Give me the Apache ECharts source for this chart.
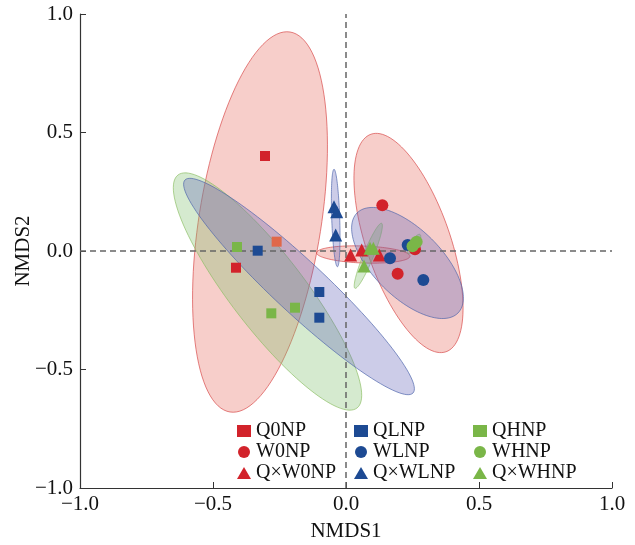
<!DOCTYPE html>
<html>
<head>
<meta charset="utf-8">
<script src="https://cdn.jsdelivr.net/npm/echarts@6/dist/echarts.min.js"></script>
<style>
  html, body { margin: 0; padding: 0; background: #fff; }
  #nmds { width: 635px; height: 545px; }
</style>
</head>
<body>
<div id="nmds"></div>
<script>
// 样本点 (NMDS1, NMDS2)
var q0np = [[-0.3045, 0.4008], [-0.4135, -0.0705], [-0.2607, 0.0394]];
var w0np = [[0.1366, 0.1927], [0.1942, -0.0956], [0.2594, 0.0070]];
var qw0np = [[0.0175, -0.0169], [0.0590, 0.0042], [0.1253, -0.0169]];
var qlnp = [[-0.3320, 0.0013], [-0.1003, -0.1730], [-0.1003, -0.2814]];
var wlnp = [[0.2318, 0.0253], [0.1654, -0.0309], [0.2907, -0.1224]];
var qwlnp = [[-0.0451, 0.1870], [-0.0350, 0.1660], [-0.0388, 0.0675]];
var qhnp = [[-0.4098, 0.0169], [-0.2808, -0.2630], [-0.1917, -0.2392]];
var whnp = [[0.2500, 0.0200], [0.2607, 0.0323], [0.2657, 0.0394]];
var qwhnp = [[0.0902, 0.0114], [0.1028, 0.0114], [0.0677, -0.0633]];

// 置信椭圆: [中心x, 中心y, 半轴1 x, 半轴1 y, 半轴2 x, 半轴2 y]
var ellRed = [
  [-0.3233, 0.1224, 0.1128, 0.8017, 0.2271, -0.0401],
  [0.2350, 0.0338, -0.1410, 0.4590, 0.1490, 0.0578],
  [0.0650, -0.0148, 0.1756, -0.0072, -0.0012, -0.0359]
];
var ellGreen = [
  [-0.2951, -0.1709, 0.3365, -0.4916, 0.1102, 0.0949],
  [0.2556, 0.0295, 0.0226, 0.0401, 0.0112, -0.0079],
  [0.0838, -0.0203, 0.0500, 0.1371, 0.0174, -0.0080]
];
var ellBlue = [
  [-0.1767, -0.1498, 0.4286, -0.4494, 0.0669, 0.0802],
  [0.2312, -0.0506, 0.1898, -0.2110, 0.0900, 0.1020],
  [-0.0387, 0.1392, 0.0064, -0.2055, 0.0150, 0.0006]
];

var ticks = [-1, -0.5, 0, 0.5, 1];

var RED = '#d2232b', BLUE = '#1d4a93', GREEN = '#7ab648';
var FONT = '"Liberation Serif", "Times New Roman", serif';

function fmt(v) {
  return v.toFixed(1).replace('-', '\u2212');
}

function ellipseSeries(data, fill, stroke) {
  return {
    type: 'custom',
    silent: true,
    z: 1,
    data: data,
    encode: { x: 0, y: 1 },
    renderItem: function (params, api) {
      var cx = api.value(0), cy = api.value(1);
      var ux = api.value(2), uy = api.value(3), vx = api.value(4), vy = api.value(5);
      var pts = [];
      for (var i = 0; i < 120; i++) {
        var t = i / 120 * Math.PI * 2;
        pts.push(api.coord([cx + ux * Math.cos(t) + vx * Math.sin(t),
                            cy + uy * Math.cos(t) + vy * Math.sin(t)]));
      }
      return {
        type: 'polygon',
        shape: { points: pts },
        style: { fill: fill, stroke: stroke, lineWidth: 0.8 }
      };
    }
  };
}

function pointSeries(name, data, symbol, size, color) {
  return {
    name: name,
    type: 'scatter',
    z: 5,
    symbol: symbol,
    symbolSize: size,
    itemStyle: { color: color, opacity: 1 },
    data: data
  };
}

function legendCol(left, names) {
  return {
    orient: 'vertical',
    left: left,
    top: 421,
    padding: 0,
    itemWidth: 14,
    itemHeight: 12,
    itemGap: 1,
    data: names,
    textStyle: { fontFamily: FONT, fontSize: 20, color: '#111' }
  };
}

var myChart = echarts.init(document.getElementById('nmds'));

var q0Data = q0np.map(function (p, i) {
  // 第三个点在原图中偏橙色
  return i === 2 ? { value: p, itemStyle: { color: '#e0684a' } } : p;
});

var option = {
  backgroundColor: '#fff',
  animation: false,
  grid: { left: 80, right: 23, top: 14, bottom: 57, outerBoundsMode: 'none' },
  legend: [
    legendCol(237, ['Q0NP', 'W0NP', 'Q\u00d7W0NP']),
    legendCol(354, ['QLNP', 'WLNP', 'Q\u00d7WLNP']),
    legendCol(473, ['QHNP', 'WHNP', 'Q\u00d7WHNP'])
  ],
  xAxis: {
    type: 'value',
    min: -1,
    max: 1,
    interval: 0.5,
    name: 'NMDS1',
    nameLocation: 'middle',
    nameGap: 33,
    nameMoveOverlap: false,
    nameTextStyle: { fontFamily: FONT, fontSize: 21, color: '#111' },
    axisLine: { onZero: false, lineStyle: { color: '#333', width: 1.2 } },
    axisTick: { inside: true, length: 6, lineStyle: { color: '#333' } },
    axisLabel: { formatter: fmt, fontFamily: FONT, fontSize: 21, color: '#111', margin: 6 },
    splitLine: { show: false }
  },
  yAxis: {
    type: 'value',
    min: -1,
    max: 1,
    interval: 0.5,
    name: 'NMDS2',
    nameLocation: 'middle',
    nameGap: 46,
    nameMoveOverlap: false,
    nameTextStyle: { fontFamily: FONT, fontSize: 21, color: '#111' },
    axisLine: { show: true, onZero: false, lineStyle: { color: '#333', width: 1.2 } },
    axisTick: { show: true, inside: true, length: 6, lineStyle: { color: '#333' } },
    axisLabel: { formatter: fmt, fontFamily: FONT, fontSize: 21, color: '#111', margin: 7 },
    splitLine: { show: false }
  },
  series: [
    ellipseSeries(ellRed, 'rgba(232,105,95,0.33)', 'rgba(215,70,70,0.85)'),
    ellipseSeries(ellGreen, 'rgba(125,190,105,0.32)', 'rgba(140,190,100,0.85)'),
    ellipseSeries(ellBlue, 'rgba(95,95,185,0.32)', 'rgba(75,100,170,0.85)'),
    {
      type: 'scatter',
      data: [],
      silent: true,
      markLine: {
        silent: true,
        symbol: 'none',
        label: { show: false },
        lineStyle: { color: '#666', type: [6, 4], width: 1.5 },
        data: [{ xAxis: ticks[2] }, { yAxis: ticks[2] }]
      },
      z: 3
    },
    pointSeries('Q0NP', q0Data, 'rect', 10, RED),
    pointSeries('W0NP', w0np, 'circle', 12, RED),
    pointSeries('Q\u00d7W0NP', qw0np, 'triangle', 13, RED),
    pointSeries('QLNP', qlnp, 'rect', 10, BLUE),
    pointSeries('WLNP', wlnp, 'circle', 12, BLUE),
    pointSeries('Q\u00d7WLNP', qwlnp, 'triangle', 13, BLUE),
    pointSeries('QHNP', qhnp, 'rect', 10, GREEN),
    pointSeries('WHNP', whnp, 'circle', 12, GREEN),
    pointSeries('Q\u00d7WHNP', qwhnp, 'triangle', 13, GREEN)
  ]
};

option && myChart.setOption(option);
</script>
</body>
</html>
